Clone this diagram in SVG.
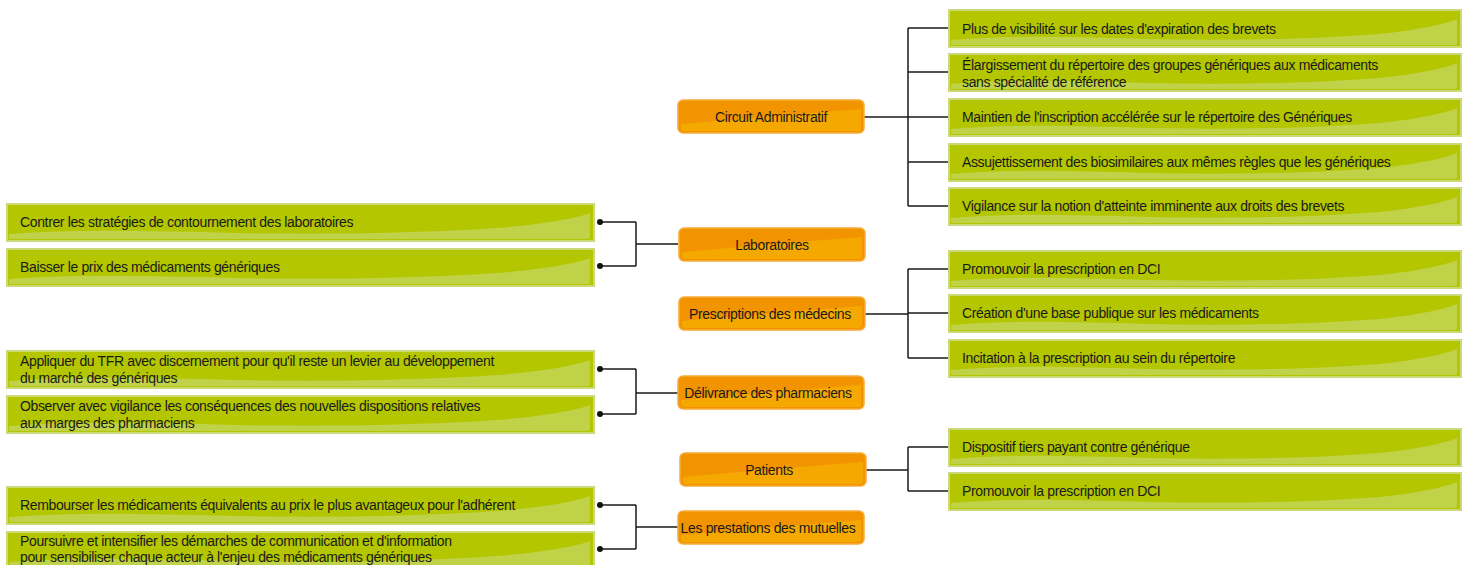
<svg xmlns="http://www.w3.org/2000/svg" width="1467" height="565" viewBox="0 0 1467 565">
<style>
.t{font-family:"Liberation Sans Narrow","Liberation Sans",Arial,sans-serif;font-size:14px;letter-spacing:-0.36px;fill:#1a1a1a}
.c{text-anchor:middle}
.gb{fill:#b3c600;stroke:#cbd97a;stroke-width:2}
.gh{fill:#c0d247}
.ob{fill:#f29400;stroke:#f6ac3a;stroke-width:1.5}
.oh{fill:#f5a900}
.ln{fill:none;stroke:#1a1a1a;stroke-width:1.5}
.dot{fill:#111}
</style>
<defs>
<g id="gR">
<rect class="gb" x="0" y="0" width="512" height="37"/>
<path class="gh" d="M2,30 C60,25 120,27 200,29 C300,31 380,28 430,24 C470,20 495,14 508,9 L508,33 Q508,35 505,35 L2,35 Z"/>
</g>
<g id="gL">
<rect class="gb" x="0" y="0" width="587" height="37"/>
<path class="gh" d="M2,30 C70,25 140,27 230,29 C340,31 430,28 490,24 C540,20 570,14 583,9 L583,33 Q583,35 580,35 L2,35 Z"/>
</g>
<g id="oB">
<rect class="ob" x="0" y="0" width="186" height="33" rx="5"/>
<path class="oh" d="M3,24 C60,19 120,14 183,9 L183,28 Q183,31 180,31 L6,31 Q3,31 3,28 Z"/>
</g>
</defs>

<g id="connectors">
<path class="ln" d="M864,117 H908 M908,28 V206 M908,28 H955 M908,72 H955 M908,117 H955 M908,162 H955 M908,206 H955"/>
<path class="ln" d="M865,314 H908 M908,269 V358 M908,269 H955 M908,313 H955 M908,358 H955"/>
<path class="ln" d="M866,470 H908 M908,447 V491 M908,447 H955 M908,491 H955"/>
<path class="ln" d="M678,244 H636 M636,222 V266 M636,222 H600 M636,266 H600"/>
<path class="ln" d="M678,393 H636 M636,369 V414 M636,369 H600 M636,414 H600"/>
<path class="ln" d="M678,527 H636 M636,505 V549 M636,505 H600 M636,549 H600"/>
<g class="dot">
<circle cx="955" cy="28" r="3"/><circle cx="955" cy="72" r="3"/><circle cx="955" cy="117" r="3"/><circle cx="955" cy="162" r="3"/><circle cx="955" cy="206" r="3"/>
<circle cx="955" cy="269" r="3"/><circle cx="955" cy="313" r="3"/><circle cx="955" cy="358" r="3"/>
<circle cx="955" cy="447" r="3"/><circle cx="955" cy="491" r="3"/>
<circle cx="600" cy="222" r="3"/><circle cx="600" cy="266" r="3"/>
<circle cx="600" cy="369" r="3"/><circle cx="600" cy="414" r="3"/>
<circle cx="600" cy="505" r="3"/><circle cx="600" cy="549" r="3"/>
</g>
</g>

<g id="n-circuit"><use href="#oB" x="678" y="100"/><text class="t c" x="771" y="122">Circuit Administratif</text></g>
<g id="n-labo"><use href="#oB" x="679" y="228"/><text class="t c" x="772" y="250">Laboratoires</text></g>
<g id="n-presc"><use href="#oB" x="679" y="297"/><text class="t c" x="770" y="319">Prescriptions des médecins</text></g>
<g id="n-deliv"><use href="#oB" x="678" y="376"/><text class="t c" x="768" y="398">Délivrance des pharmaciens</text></g>
<g id="n-patients"><use href="#oB" x="680" y="453"/><text class="t c" x="769" y="475">Patients</text></g>
<g id="n-mut"><use href="#oB" x="678" y="511"/><text class="t c" x="768" y="533">Les prestations des mutuelles</text></g>

<g id="r1"><use href="#gR" x="949" y="10"/><text class="t" x="962" y="34">Plus de visibilité sur les dates d'expiration des brevets</text></g>
<g id="r2"><use href="#gR" x="949" y="54"/><text class="t" x="962" y="70">Élargissement du répertoire des groupes génériques aux médicaments</text><text class="t" x="962" y="87">sans spécialité de référence</text></g>
<g id="r3"><use href="#gR" x="949" y="99"/><text class="t" x="962" y="122">Maintien de l'inscription accélérée sur le répertoire des Génériques</text></g>
<g id="r4"><use href="#gR" x="949" y="144"/><text class="t" x="962" y="167">Assujettissement des biosimilaires aux mêmes règles que les génériques</text></g>
<g id="r5"><use href="#gR" x="949" y="188"/><text class="t" x="962" y="211">Vigilance sur la notion d'atteinte imminente aux droits des brevets</text></g>
<g id="r6"><use href="#gR" x="949" y="251"/><text class="t" x="962" y="274">Promouvoir la prescription en DCI</text></g>
<g id="r7"><use href="#gR" x="949" y="295"/><text class="t" x="962" y="318">Création d'une base publique sur les médicaments</text></g>
<g id="r8"><use href="#gR" x="949" y="340"/><text class="t" x="962" y="363">Incitation à la prescription au sein du répertoire</text></g>
<g id="r9"><use href="#gR" x="949" y="429"/><text class="t" x="962" y="452">Dispositif tiers payant contre générique</text></g>
<g id="r10"><use href="#gR" x="949" y="473"/><text class="t" x="962" y="496">Promouvoir la prescription en DCI</text></g>

<g id="l1"><use href="#gL" x="7" y="204"/><text class="t" x="20" y="227">Contrer les stratégies de contournement des laboratoires</text></g>
<g id="l2"><use href="#gL" x="7" y="249"/><text class="t" x="20" y="272">Baisser le prix des médicaments génériques</text></g>
<g id="l3"><use href="#gL" x="7" y="351"/><text class="t" x="20" y="366">Appliquer du TFR avec discernement pour qu'il reste un levier au développement</text><text class="t" x="20" y="383">du marché des génériques</text></g>
<g id="l4"><use href="#gL" x="7" y="396"/><text class="t" x="20" y="411">Observer avec vigilance les conséquences des nouvelles dispositions relatives</text><text class="t" x="20" y="428">aux marges des pharmaciens</text></g>
<g id="l5"><use href="#gL" x="7" y="487"/><text class="t" x="20" y="510">Rembourser les médicaments équivalents au prix le plus avantageux pour l'adhérent</text></g>
<g id="l6"><use href="#gL" x="7" y="532"/><text class="t" x="20" y="546">Poursuivre et intensifier les démarches de communication et d'information</text><text class="t" x="20" y="562">pour sensibiliser chaque acteur à l'enjeu des médicaments génériques</text></g>
</svg>
